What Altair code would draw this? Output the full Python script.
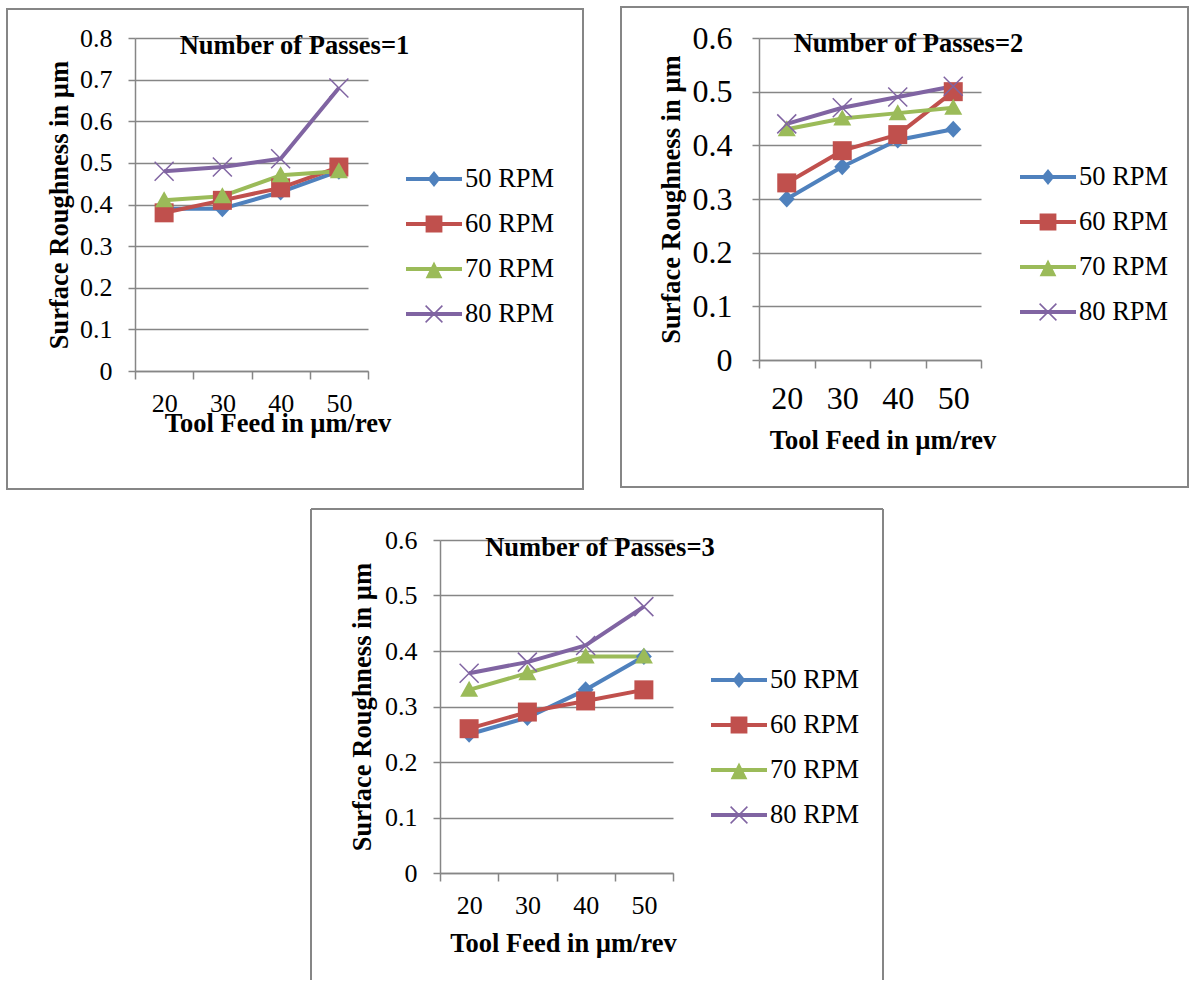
import math
import altair as alt
import pandas as pd

# ---------------- data ----------------
feeds = ["20", "30", "40", "50"]
rpms = ["50 RPM", "60 RPM", "70 RPM", "80 RPM"]
colors = ["#4F81BD", "#C0504D", "#9BBB59", "#8064A2"]

# Number of Passes = 1
pass1_50 = [0.39, 0.39, 0.43, 0.48]
pass1_60 = [0.38, 0.41, 0.44, 0.49]
pass1_70 = [0.41, 0.42, 0.47, 0.48]
pass1_80 = [0.48, 0.49, 0.51, 0.68]

# Number of Passes = 2
pass2_50 = [0.30, 0.36, 0.41, 0.43]
pass2_60 = [0.33, 0.39, 0.42, 0.50]
pass2_70 = [0.43, 0.45, 0.46, 0.47]
pass2_80 = [0.44, 0.47, 0.49, 0.51]

# Number of Passes = 3
pass3_50 = [0.25, 0.28, 0.33, 0.39]
pass3_60 = [0.26, 0.29, 0.31, 0.33]
pass3_70 = [0.33, 0.36, 0.39, 0.39]
pass3_80 = [0.36, 0.38, 0.41, 0.48]

y_ticks_1 = [0, 0.1, 0.2, 0.3, 0.4, 0.5, 0.6, 0.7, 0.8]
y_ticks_23 = [0, 0.1, 0.2, 0.3, 0.4, 0.5, 0.6]

FONT = "Liberation Serif"
GRAY = "#868686"
TFS = 26.5  # bold title font size
LFS = 26.5  # legend label font size


# ---------------- marker shapes ----------------
def poly(pts):
    return "M" + "L".join(f"{x:.3f},{y:.3f}" for x, y in pts) + "Z"


def x_shape(a, t):
    d = t / (2 * math.sqrt(2))
    p1 = [(-a - d, -a + d), (-a + d, -a - d), (a + d, a - d), (a - d, a + d)]
    p2 = [(-a - d, a - d), (a - d, -a - d), (a + d, -a + d), (-a + d, a + d)]
    return poly(p1) + poly(p2)


# data markers (size 400 -> 10 px per unit)
marker_paths = [
    poly([(0, -0.85), (0.8, 0), (0, 0.85), (-0.8, 0)]),
    poly([(-0.95, -0.95), (0.95, -0.95), (0.95, 0.95), (-0.95, 0.95)]),
    poly([(0, -0.9), (0.9, 0.7), (-0.9, 0.7)]),
    x_shape(0.95, 0.15),
]

# legend symbols: line + marker (size 3136 -> 28 px per unit)
bar = poly([(-1, -0.075), (1, -0.075), (1, 0.075), (-1, 0.075)])
legend_paths = [
    bar + poly([(0, -0.29), (0.23, 0), (0, 0.29), (-0.23, 0)]),
    bar + poly([(-0.3, -0.3), (0.3, -0.3), (0.3, 0.3), (-0.3, 0.3)]),
    bar + poly([(0, -0.27), (0.3, 0.33), (-0.3, 0.33)]),
    bar + x_shape(0.3, 0.055),
]


def make_df(series):
    rows = []
    for rpm, vals in zip(rpms, series):
        for f, v in zip(feeds, vals):
            rows.append({"feed": f, "rpm": rpm, "val": v})
    return pd.DataFrame(rows)


def panel(series, ymax, yticks, W, H, title, tx, ty, tick_fs, ylab_pad, xlab_pad,
          ytitle_x, xtitle_x, xtitle_y, leg_x, leg_y, frame, open_bottom=False):
    df = make_df(series)
    one = pd.DataFrame({"k": [0]})

    x_enc = alt.X(
        "feed:N",
        sort=feeds,
        scale=alt.Scale(type="band", domain=feeds, paddingInner=0, paddingOuter=0),
        axis=alt.Axis(
            title="Tool Feed in µm/rev", labelAngle=0, tickBand="extent", tickSize=8,
            labelPadding=xlab_pad, labelFontSize=tick_fs, labelFont=FONT, labelColor="black",
            titleFont=FONT, titleFontSize=TFS, titleFontWeight="bold", titleColor="black",
            titleX=xtitle_x, titleY=xtitle_y, titleAlign="center", titleBaseline="alphabetic",
            domainColor=GRAY, tickColor=GRAY, domainWidth=1.5, tickWidth=1.5, grid=False,
        ),
    )
    y_enc = alt.Y(
        "val:Q",
        scale=alt.Scale(domain=[0, ymax], nice=False, zero=True),
        axis=alt.Axis(
            title="Surface Roughness in µm", values=yticks, format=".1~f", tickSize=7,
            labelPadding=ylab_pad, labelFontSize=tick_fs, labelFont=FONT, labelColor="black",
            labelOverlap=False,
            titleFont=FONT, titleFontSize=TFS, titleFontWeight="bold", titleColor="black",
            titleX=ytitle_x, titleY=H / 2, titleAngle=270, titleAlign="center",
            titleBaseline="alphabetic",
            domainColor=GRAY, tickColor=GRAY, domainWidth=1.5, tickWidth=1.5,
            grid=True, gridColor=GRAY, gridWidth=1.5,
        ),
    )

    fl, ft, fr, fb = frame
    if open_bottom:
        e1 = alt.Chart(one).mark_rule(color=GRAY, strokeWidth=2).encode(
            x=alt.value(fl), y=alt.value(ft), y2=alt.value(fb))
        e2 = alt.Chart(one).mark_rule(color=GRAY, strokeWidth=2).encode(
            x=alt.value(fr), y=alt.value(ft), y2=alt.value(fb))
        e3 = alt.Chart(one).mark_rule(color=GRAY, strokeWidth=2).encode(
            x=alt.value(fl), x2=alt.value(fr), y=alt.value(ft))
        frame_layers = [e1, e2, e3]
    else:
        frame_layers = [alt.Chart(one).mark_rect(fillOpacity=0, stroke=GRAY, strokeWidth=2).encode(
            x=alt.value(fl), x2=alt.value(fr), y=alt.value(ft), y2=alt.value(fb))]

    lines = alt.Chart(df).mark_line(strokeWidth=4, strokeJoin="round").encode(
        x=x_enc, y=y_enc, detail="rpm:N",
        color=alt.Color("rpm:N", scale=alt.Scale(domain=rpms, range=colors), legend=None),
    )
    pts = alt.Chart(df).mark_point(filled=True, size=400, opacity=1, strokeWidth=0).encode(
        x=x_enc, y=y_enc,
        color=alt.Color("rpm:N", scale=alt.Scale(domain=rpms, range=colors), legend=None),
        shape=alt.Shape("rpm:N", scale=alt.Scale(domain=rpms, range=marker_paths), legend=None),
    )
    L = alt.Legend(
        title=None, orient="none", legendX=leg_x, legendY=leg_y, direction="vertical",
        columns=1, symbolSize=3136, symbolStrokeWidth=0, symbolOpacity=1,
        labelFont=FONT, labelFontSize=LFS, labelColor="black", labelOffset=3, labelLimit=300,
        clipHeight=30, rowPadding=15, padding=0, symbolOffset=0,
    )
    leg = alt.Chart(df).mark_point(filled=True, size=3136, opacity=0, strokeWidth=0).encode(
        x=x_enc, y=y_enc,
        color=alt.Color("rpm:N", scale=alt.Scale(domain=rpms, range=colors), legend=L),
        shape=alt.Shape("rpm:N", scale=alt.Scale(domain=rpms, range=legend_paths), legend=L),
    )
    ttl = alt.Chart(one).mark_text(
        font=FONT, fontSize=TFS, fontWeight="bold", color="black", align="center",
        baseline="alphabetic",
    ).encode(x=alt.value(tx), y=alt.value(ty), text=alt.value(title))

    return alt.layer(*frame_layers, lines, pts, leg, ttl).resolve_scale(
        color="independent", shape="independent"
    ).properties(width=W, height=H)


p1 = panel([pass1_50, pass1_60, pass1_70, pass1_80], 0.8, y_ticks_1, 233, 333,
           "Number of Passes=1", 159.5, 15.7, 26, 16, 11,
           -68, 142.5, 60, 271, 126, (-128, -29, 448, 451))
p2 = panel([pass2_50, pass2_60, pass2_70, pass2_80], 0.6, y_ticks_23, 222, 322,
           "Number of Passes=2", 149.5, 14.3, 32, 20, 15,
           -80, 123.5, 88, 261, 124, (-138, -31, 429, 449))
p3 = panel([pass3_50, pass3_60, pass3_70, pass3_80], 0.6, y_ticks_23, 233, 333,
           "Number of Passes=3", 160, 15.6, 26, 16, 11,
           -70, 123, 78, 271, 125, (-129, -31, 443, 440), open_bottom=True)

chart = alt.vconcat(
    alt.hconcat(p1, p2, spacing=36),
    p3,
    spacing=18,
    center=True,
).properties(
    padding={"left": 6, "top": 6, "right": 0, "bottom": 0},
    background="white",
).configure_view(stroke=None)

chart.save("out.html", embed_options={"renderer": "svg", "actions": False})
